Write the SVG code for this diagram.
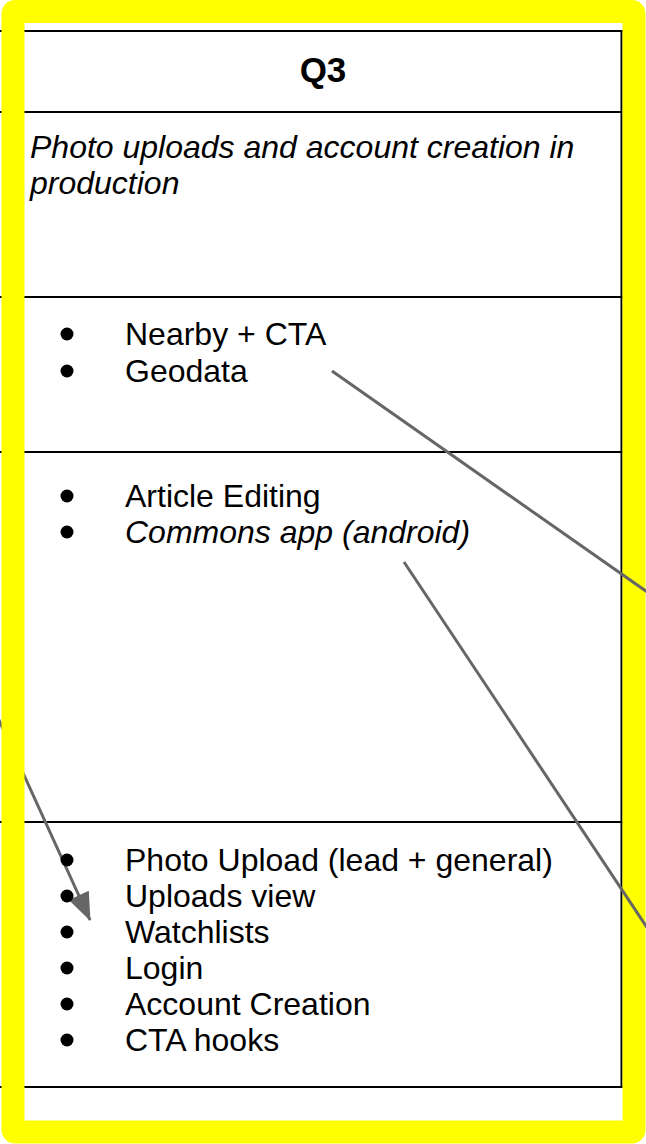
<svg xmlns="http://www.w3.org/2000/svg" width="646" height="1144" viewBox="0 0 646 1144">
<defs>
<style>
.t{font-family:"Liberation Sans",Arial,sans-serif;font-size:32px;fill:#000}
.i{font-style:italic}
.b{font-weight:bold;font-size:35px}
.rule{stroke:#000;stroke-width:2;fill:none}
.conn{stroke:#666;stroke-width:3;fill:none}
.bul{fill:#000}
</style>
<marker id="ah" markerUnits="userSpaceOnUse" markerWidth="28" markerHeight="22" refX="27" refY="11" orient="auto" overflow="visible">
<path d="M0,0 L28,11 L0,22 Z" fill="#666"/>
</marker>
</defs>
<rect x="0" y="0" width="646" height="1144" fill="#fff"/>
<g id="table">
<line class="rule" x1="0" y1="31" x2="622.5" y2="31"/>
<line class="rule" x1="0" y1="112" x2="622.5" y2="112"/>
<line class="rule" x1="0" y1="297" x2="622.5" y2="297"/>
<line class="rule" x1="0" y1="452" x2="622.5" y2="452"/>
<line class="rule" x1="0" y1="822" x2="622.5" y2="822"/>
<line class="rule" x1="0" y1="1087" x2="622.5" y2="1087"/>
<line class="rule" x1="621.5" y1="30" x2="621.5" y2="1088"/>
</g>
<g id="connectors-under">
<line class="conn" x1="-2" y1="718" x2="90" y2="920" marker-end="url(#ah)"/>
</g>
<g id="frame">
<rect x="13" y="11.5" width="621" height="1120.5" rx="2" fill="none" stroke="#ffff00" stroke-width="23" stroke-linejoin="round"/>
</g>
<g id="header">
<text class="t b" x="323" y="82" text-anchor="middle">Q3</text>
</g>
<g id="goal">
<text class="t i" x="30" y="158">Photo uploads and account creation in</text>
<text class="t i" x="30" y="194">production</text>
</g>
<g id="row-nearby">
<circle class="bul" cx="67" cy="334" r="6.5"/>
<circle class="bul" cx="67" cy="371" r="6.5"/>
<text class="t" x="125" y="345">Nearby + CTA</text>
<text class="t" x="125" y="382">Geodata</text>
</g>
<g id="row-editing">
<circle class="bul" cx="67" cy="496" r="6.5"/>
<circle class="bul" cx="67" cy="532" r="6.5"/>
<text class="t" x="125" y="507">Article Editing</text>
<text class="t i" x="125" y="543">Commons app (android)</text>
</g>
<g id="row-uploads">
<circle class="bul" cx="67" cy="860" r="6.5"/>
<circle class="bul" cx="67" cy="896" r="6.5"/>
<circle class="bul" cx="67" cy="932" r="6.5"/>
<circle class="bul" cx="67" cy="968" r="6.5"/>
<circle class="bul" cx="67" cy="1004" r="6.5"/>
<circle class="bul" cx="67" cy="1040" r="6.5"/>
<text class="t" x="125" y="871">Photo Upload (lead + general)</text>
<text class="t" x="125" y="907">Uploads view</text>
<text class="t" x="125" y="943">Watchlists</text>
<text class="t" x="125" y="979">Login</text>
<text class="t" x="125" y="1015">Account Creation</text>
<text class="t" x="125" y="1051">CTA hooks</text>
</g>
<g id="connectors">
<line class="conn" x1="332" y1="371" x2="660" y2="601"/>
<line class="conn" x1="404" y1="562" x2="660" y2="947"/>
</g>
</svg>
